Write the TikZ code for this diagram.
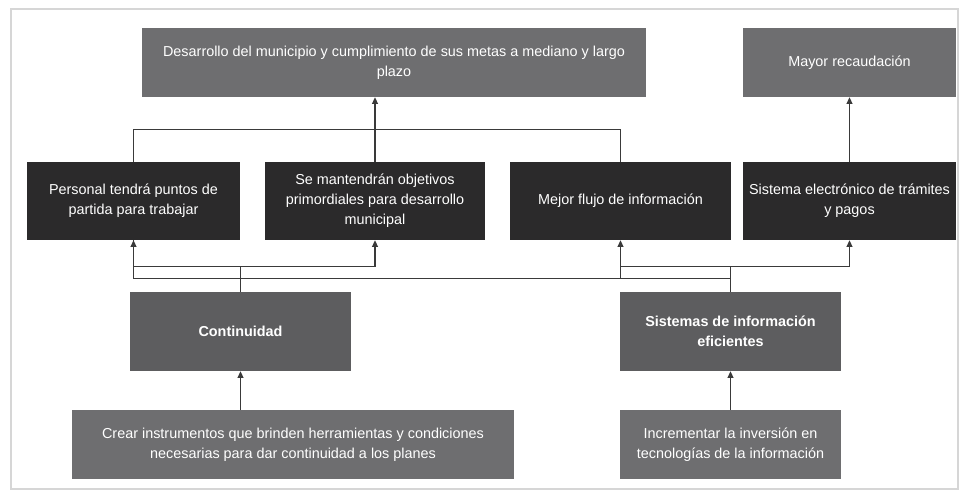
\documentclass[tikz,border=0pt]{standalone}
\usepackage{fontspec}
\setmainfont{Liberation Sans}
\usepackage{tikz}
\usetikzlibrary{arrows.meta,positioning,calc}
\definecolor{arbolgray}{HTML}{6E6E70}
\definecolor{arboldark}{HTML}{2B2A2B}
\definecolor{arbolmid}{HTML}{5D5D5F}
\definecolor{arbolline}{HTML}{3A3A3A}
\definecolor{arbolframe}{HTML}{D6D6D6}

\begin{document}
\begin{tikzpicture}[x=0.75pt,y=-0.75pt,
    box/.style={rectangle,inner sep=2pt,align=center,text=white,
                font=\fontsize{10.8}{15}\selectfont},
    boxsize/.style 2 args={minimum width=#1*0.75pt,minimum height=#2*0.75pt},
    effbox/.style={box,fill=arbolgray},
    resbox/.style={box,fill=arboldark},
    causebox/.style={box,fill=arbolmid,font=\fontsize{10.8}{15}\selectfont\bfseries},
    link/.style={draw=arbolline,line width=0.8pt},
    arr/.style={link,-{Triangle[width=4.5pt,length=5pt]}}]

  \useasboundingbox (0,0) rectangle (961,493);
  \draw[arbolframe,line width=1.2pt] (11,9) rectangle (958,489);

  % efectos
  \node[effbox,boxsize={504}{69}] (des) at (394,62.5)
       {Desarrollo del municipio y cumplimiento de sus metas a mediano y largo\\plazo};
  \node[effbox,boxsize={213}{69}] (may) at (849.5,62.5)
       {Mayor recaudación};

  % resultados
  \node[resbox,boxsize={213}{78}] (per) at (133.5,201)
       {Personal tendrá puntos de\\partida para trabajar};
  \node[resbox,boxsize={220}{78}] (obj) at (375,201)
       {Se mantendrán objetivos\\primordiales para desarrollo\\municipal};
  \node[resbox,boxsize={221}{78}] (flu) at (620.5,201)
       {Mejor flujo de información};
  \node[resbox,boxsize={213}{78}] (sel) at (849.5,201)
       {Sistema electrónico de trámites\\y pagos};

  % causas
  \node[causebox,boxsize={221}{79}] (con) at (240.5,331.5)
       {Continuidad};
  \node[causebox,boxsize={221}{79}] (sis) at (730.5,331.5)
       {Sistemas de información\\eficientes};

  % acciones
  \node[effbox,boxsize={442}{69}] (cre) at (293,444.5)
       {Crear instrumentos que brinden herramientas y condiciones\\necesarias para dar continuidad a los planes};
  \node[effbox,boxsize={221}{69}] (inc) at (730.5,444.5)
       {Incrementar la inversión en\\tecnologías de la información};

  % conexiones superiores
  \draw[link] (per.north) -- ++(0,-32) -| (flu.north);
  \draw[arr] (obj.north) -- (obj.north |- des.south);
  \draw[arr] (sel.north) -- (may.south);

  % conexiones inferiores
  \draw[link] (con.north) -- ++(0,-25) coordinate (cj);
  \draw[arr] (cj) -| (per.south);
  \draw[arr] (cj) -| (obj.south);
  \draw[link] (sis.north) -- ++(0,-25) coordinate (sj);
  \draw[arr] (sj) -| (flu.south);
  \draw[arr] (sj) -| (sel.south);
  \draw[link] (sis.north) -- ++(0,-13) coordinate (sk) -| (per.south);
  \draw[link] (sk -| flu.south) -- (sj -| flu.south);

  \draw[arr] (cre.north -| con.south) -- (con.south);
  \draw[arr] (inc.north) -- (sis.south);

\end{tikzpicture}
\end{document}
